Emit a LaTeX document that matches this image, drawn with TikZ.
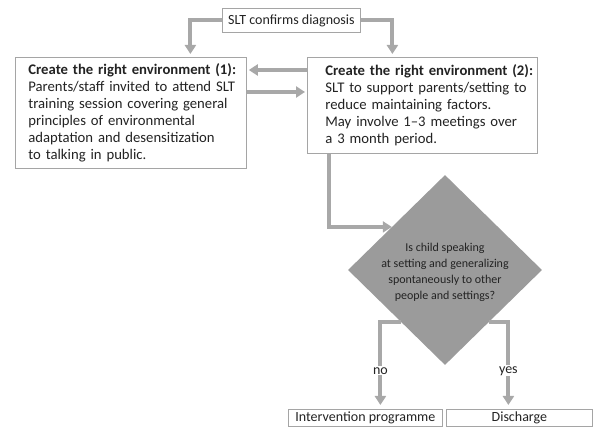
\documentclass[tikz,border=0pt]{standalone}
\usepackage{fontspec}
\setmainfont{Carlito}
\usetikzlibrary{shapes.geometric,arrows.meta}
\definecolor{flowgray}{RGB}{168,168,168}
\definecolor{edgegray}{RGB}{165,165,165}
\definecolor{qgray}{RGB}{155,155,155}
\definecolor{inkgray}{RGB}{35,35,35}

\begin{document}
\begin{tikzpicture}[x=1pt,y=-1pt,
  font=\fontsize{14}{16.7}\selectfont,
  box/.style={draw=edgegray,line width=0.8pt,fill=white,anchor=north west,
    inner sep=0pt,text=inkgray,align=left},
  bigtext/.style={font=\fontsize{14.7}{16.9}\selectfont},
  flow/.style={draw=flowgray,line width=4pt,-{Triangle[width=11pt,length=9pt]}},
  answer/.style={fill=white,inner sep=1pt,text=inkgray}]
\useasboundingbox (0,0) rectangle (600,427);
% boxes
\node[box,align=center,minimum width=138pt,minimum height=24pt] (diag) at (222,8)
  {SLT confirms diagnosis};
\node[box,bigtext,minimum width=231pt,minimum height=111pt,text width=205pt] (env1) at (15,57)
  {\mbox{\textbf{Create the right environment (1):}}\\
   \mbox{Parents/staff invited to attend SLT}\\
   training session covering general\\
   principles of environmental\\
   adaptation and desensitization\\
   to talking in public.};
\node[box,bigtext,minimum width=230pt,minimum height=96pt,text width=194pt] (env2) at (307,57)
  {\mbox{\textbf{Create the right environment (2):}}\\
   \mbox{SLT to support parents/setting to}\\
   reduce maintaining factors.\\
   May involve 1--3 meetings over\\
   a 3 month period.};
% decision
\node[diamond,fill=qgray,inner sep=0pt,minimum width=194pt,minimum height=190pt] (quest) at (445,270) {};
\node[align=center,text=inkgray,font=\fontsize{12}{16}\selectfont] (qtext) at (445,272)
  {Is child speaking\\ at setting and generalizing\\ spontaneously to other\\ people and settings?};
\node[box,align=center,minimum width=154pt,minimum height=17pt] (interv) at (288,409)
  {Intervention programme};
\node[box,align=center,minimum width=146pt,minimum height=17pt] (disch) at (446,409)
  {Discharge};
% connectors
\draw[flow,shorten >=3pt] (diag.west) -| ([xshift=59.5pt]env1.north);
\draw[flow,shorten >=3pt] (diag.east) -| ([xshift=-30pt]env2.north);
\draw[flow,shorten >=2pt] ([yshift=-13pt]env2.north west) -- ([yshift=-13pt]env1.north east);
\draw[flow,shorten >=2pt] ([yshift=-35pt]env1.north east) -- ([yshift=-35pt]env2.north west);
\draw[flow] ([xshift=22pt]env2.south west) |- (quest.141);
\draw[flow,shorten >=4pt] (quest.230) -| ([xshift=15pt]interv.north)
  node[answer,pos=0.78] (no) {no};
\draw[flow,shorten >=4pt] (quest.310) -| ([xshift=-11pt]disch.north)
  node[answer,pos=0.78] (yes) {yes};
\end{tikzpicture}
\end{document}
